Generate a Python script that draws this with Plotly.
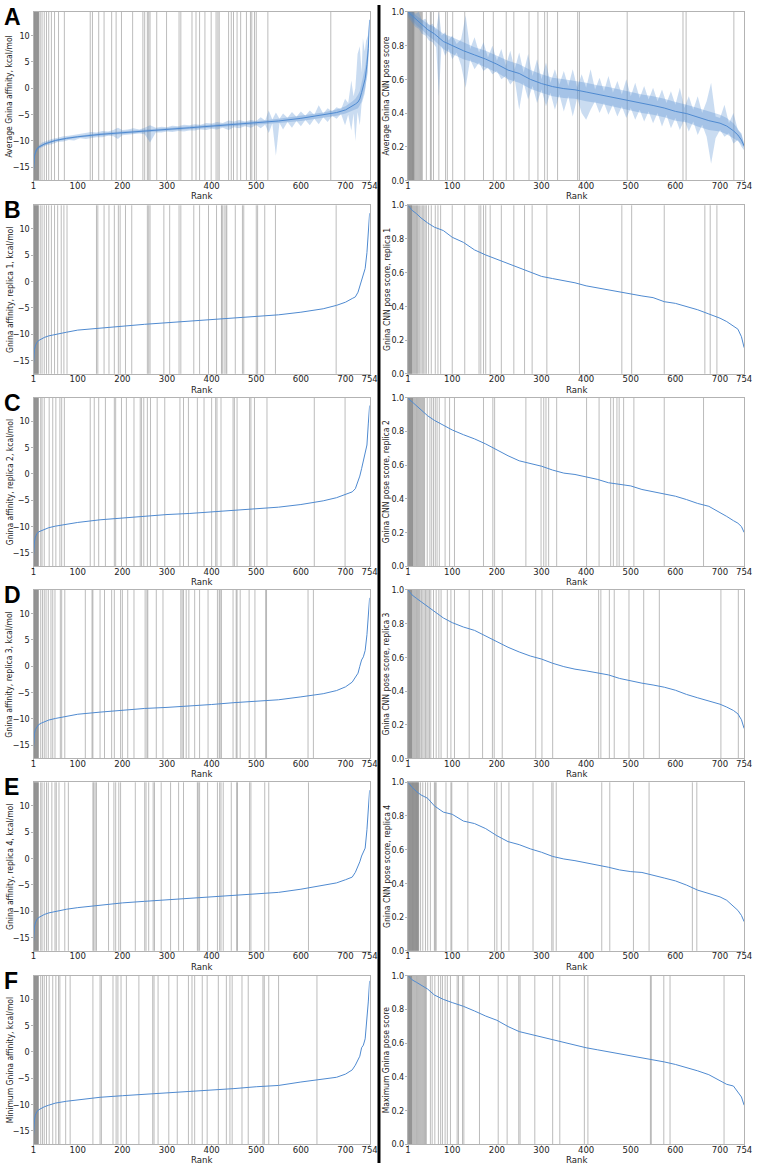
import plotly.graph_objects as go

# ------------------------------------------------------------------ data
x_tick_vals = [1, 100, 200, 300, 400, 500, 600, 700, 754]
aff_ticks = [-15, -10, -5, 0, 5, 10]
cnn_ticks = [0.0, 0.2, 0.4, 0.6, 0.8, 1.0]

# Panel A, left: average affinity with spread band (outer envelope)
bandA_aff_rank = [1, 5, 12, 20, 30, 42, 55, 68, 80, 92,
                  105, 118, 130, 142, 155, 168, 180, 190, 200, 212,
                  225, 238, 250, 262, 275, 288, 300, 312, 325, 338,
                  350, 362, 375, 388, 400, 412, 425, 438, 450, 462,
                  475, 488, 500, 510, 520, 528, 536, 544, 552, 560,
                  570, 580, 590, 600, 610, 620, 630, 640, 650, 660,
                  670, 680, 690, 699, 706, 713, 718, 722, 727, 732,
                  736, 739, 743, 746, 750, 754]
avgA_aff_upper = [-15.0, -11.8, -10.9, -10.3, -10.0, -9.6, -9.4, -9.1, -9.0, -8.8,
                  -8.7, -8.5, -8.3, -8.4, -8.1, -8.2, -7.9, -7.5, -7.9, -7.8,
                  -7.6, -7.8, -7.5, -7.0, -7.5, -7.3, -7.4, -7.1, -7.2, -6.9,
                  -7.0, -6.8, -6.9, -6.6, -6.7, -6.4, -6.6, -6.1, -6.3, -6.0,
                  -6.3, -6.0, -6.2, -5.5, -6.1, -4.2, -5.9, -4.6, -5.8, -4.8,
                  -5.6, -4.5, -5.4, -4.4, -5.2, -4.2, -5.0, -3.2, -4.8, -3.8,
                  -4.4, -3.6, -4.0, -2.0, -2.8, 1.5, -1.5, 0.0, 6.5, 8.0,
                  3.0, 9.5, 7.0, 9.0, 10.0, 13.3]
avgA_aff_lower = [-16.5, -12.6, -11.5, -11.2, -10.8, -10.6, -10.2, -10.1, -9.8, -9.9,
                  -9.5, -9.6, -9.4, -9.3, -9.3, -9.0, -9.1, -9.6, -8.9, -8.8,
                  -8.8, -8.6, -8.7, -10.3, -8.4, -8.4, -8.2, -8.3, -8.1, -8.2,
                  -8.0, -8.0, -7.8, -7.9, -7.7, -7.8, -7.5, -7.9, -7.4, -7.6,
                  -7.2, -7.5, -7.0, -7.6, -6.9, -8.5, -6.7, -12.8, -6.6, -7.8,
                  -6.4, -7.5, -6.2, -7.2, -6.0, -7.0, -5.8, -6.8, -5.5, -6.4,
                  -5.2, -5.8, -4.9, -7.0, -5.0, -8.0, -4.8, -10.0, -4.5, -7.0,
                  -3.0, -2.0, -1.0, 1.0, 3.0, 12.5]

# Panel A, left: mean line and inner (core) band
aff_rank = [1, 2, 3, 5, 8, 12, 18, 25, 35, 50, 75, 100, 150, 200, 250, 300, 350,
            400, 450, 500, 550, 600, 650, 680, 700, 715, 722, 728, 732, 736,
            740, 744, 748, 751, 754]
avgA_aff_mean = [-15.5, -13.8, -12.9, -12.2, -11.6, -11.2, -10.9, -10.6, -10.3, -9.9, -9.5, -9.2,
                 -8.75, -8.4, -8.1, -7.8, -7.5, -7.2, -6.9, -6.6, -6.2, -5.7, -5.1, -4.6, -4.1,
                 -3.4, -3.0, -2.6, -2.0, -0.8, 0.6, 1.8, 4.5, 7.5, 13.0]
avgA_aff_core_up = [-15.3, -13.6, -12.7, -12.0, -11.4, -11.0, -10.7, -10.4, -10.1, -9.7, -9.3, -9.0,
                    -8.5, -8.15, -7.85, -7.55, -7.25, -6.95, -6.6, -6.25, -5.8, -5.2, -4.6, -4.0, -3.4,
                    -2.5, -2.0, -1.2, -0.5, 1.0, 2.5, 4.0, 6.5, 9.0, 13.2]
avgA_aff_core_lo = [-15.8, -14.0, -13.1, -12.4, -11.8, -11.4, -11.1, -10.8, -10.5, -10.1, -9.7, -9.4,
                    -9.0, -8.65, -8.35, -8.05, -7.75, -7.45, -7.2, -6.95, -6.6, -6.2, -5.6, -5.2, -4.8,
                    -4.3, -4.0, -3.8, -3.2, -2.5, -1.2, 0.0, 2.5, 5.5, 12.8]

# Panel A, right: average CNN pose score, outer envelope
bandA_cnn_rank = [1, 6, 12, 18, 25, 32, 40, 48, 56, 64, 70, 76, 84, 92, 100,
                  110, 120, 130, 140, 150, 160, 170, 180, 190, 200,
                  210, 220, 230, 240, 250, 260, 270, 280, 290, 300,
                  310, 320, 330, 340, 350, 360, 370, 380, 390, 400,
                  410, 420, 430, 440, 450, 460, 470, 480, 490, 500,
                  510, 520, 530, 540, 550, 560, 570, 580, 590, 600,
                  610, 620, 630, 640, 650, 660, 670, 680, 690, 700,
                  710, 720, 730, 740, 748, 754]
avgA_cnn_upper = [1.0, 1.0, 1.0, 0.99, 1.0, 0.95, 0.96, 0.92, 0.93, 0.89, 1.0, 0.86, 0.88, 0.83, 0.86,
                  0.81, 0.84, 0.98, 0.78, 0.85, 0.76, 0.82, 0.73, 0.80, 0.71,
                  0.78, 0.68, 0.77, 0.66, 0.76, 0.64, 0.75, 0.62, 0.72, 0.60,
                  0.70, 0.58, 0.66, 0.57, 0.65, 0.56, 0.66, 0.55, 0.63, 0.55,
                  0.66, 0.54, 0.61, 0.53, 0.62, 0.52, 0.59, 0.51, 0.60, 0.50,
                  0.58, 0.49, 0.56, 0.48, 0.55, 0.47, 0.54, 0.46, 0.53, 0.45,
                  0.55, 0.43, 0.50, 0.42, 0.50, 0.40, 0.47, 0.58, 0.38, 0.37,
                  0.45, 0.34, 0.40, 0.30, 0.28, 0.22]
avgA_cnn_lower = [0.97, 0.95, 0.93, 0.91, 0.90, 0.87, 0.86, 0.83, 0.82, 0.79, 0.50, 0.80, 0.74, 0.78, 0.72,
                  0.76, 0.68, 0.55, 0.72, 0.66, 0.70, 0.65, 0.67, 0.63, 0.65,
                  0.60, 0.62, 0.57, 0.60, 0.42, 0.58, 0.48, 0.56, 0.46, 0.54,
                  0.44, 0.52, 0.42, 0.51, 0.41, 0.50, 0.38, 0.49, 0.40, 0.36,
                  0.42, 0.47, 0.40, 0.46, 0.39, 0.45, 0.38, 0.44, 0.37, 0.43,
                  0.36, 0.42, 0.35, 0.41, 0.34, 0.40, 0.32, 0.39, 0.31, 0.37,
                  0.30, 0.36, 0.29, 0.35, 0.27, 0.33, 0.26, 0.10, 0.25, 0.30,
                  0.26, 0.28, 0.22, 0.24, 0.20, 0.18]

# Panel A, right: mean line and core band
cnn_rank = [1, 5, 10, 20, 30, 45, 60, 80, 100, 125, 150, 175, 200, 225, 250, 275, 300,
            325, 350, 375, 400, 425, 450, 475, 500, 525, 550, 575, 600, 625, 650, 675,
            700, 715, 730, 740, 748, 754]
avgA_cnn_mean = [1.0, 0.99, 0.975, 0.95, 0.93, 0.895, 0.87, 0.825, 0.80, 0.77, 0.745, 0.72, 0.69,
                 0.655, 0.635, 0.60, 0.575, 0.557, 0.545, 0.538, 0.525, 0.512, 0.50, 0.485, 0.47,
                 0.457, 0.445, 0.43, 0.41, 0.397, 0.375, 0.355, 0.34, 0.323, 0.295, 0.27, 0.24, 0.205]
avgA_cnn_core_up = [1.0, 1.0, 0.995, 0.975, 0.96, 0.93, 0.91, 0.87, 0.85, 0.82, 0.79, 0.77, 0.74,
                    0.71, 0.69, 0.655, 0.63, 0.61, 0.60, 0.59, 0.58, 0.565, 0.555, 0.54, 0.525,
                    0.51, 0.5, 0.485, 0.465, 0.45, 0.43, 0.41, 0.39, 0.37, 0.34, 0.305, 0.27, 0.215]
avgA_cnn_core_lo = [0.985, 0.97, 0.95, 0.92, 0.90, 0.86, 0.83, 0.78, 0.75, 0.72, 0.70, 0.67, 0.64,
                    0.60, 0.58, 0.545, 0.52, 0.50, 0.49, 0.485, 0.47, 0.46, 0.445, 0.43, 0.415,
                    0.40, 0.39, 0.375, 0.355, 0.345, 0.32, 0.30, 0.29, 0.275, 0.25, 0.235, 0.215, 0.195]

# Panels B-F, left: affinity per replica / minimum
affB = [-15.5, -13.6, -12.9, -12.2, -11.6, -11.2, -10.9, -10.6, -10.3, -10.0, -9.6, -9.2, -8.8, -8.4,
        -8.1, -7.8, -7.5, -7.2, -6.95, -6.6, -6.3, -5.8, -5.15, -4.5, -3.9, -3.2, -2.9, -2.0,
        -0.8, 0.5, 1.2, 2.5, 5.5, 8.5, 13.0]
affC = [-15.5, -13.8, -12.9, -12.0, -11.4, -11.0, -10.8, -10.5, -10.2, -9.9, -9.5, -9.2, -8.7, -8.35,
        -8.05, -7.7, -7.5, -7.2, -6.9, -6.6, -6.3, -5.8, -5.1, -4.5, -3.9, -3.4, -2.8, -1.5,
        -0.4, 1.0, 2.5, 4.3, 5.5, 9.5, 13.0]
affD = [-15.5, -13.5, -12.8, -12.0, -11.5, -11.1, -10.8, -10.5, -10.2, -9.9, -9.5, -9.1, -8.7, -8.35,
        -8.0, -7.8, -7.55, -7.25, -6.9, -6.6, -6.35, -5.8, -5.2, -4.6, -3.9, -3.0, -2.2, -1.3,
        0.0, 1.2, 1.8, 3.0, 6.0, 9.0, 13.0]
affE = [-15.7, -13.8, -13.0, -12.2, -11.6, -11.2, -10.9, -10.6, -10.3, -10.0, -9.6, -9.3, -8.8, -8.4,
        -8.1, -7.8, -7.5, -7.3, -6.9, -6.6, -6.4, -5.8, -5.1, -4.6, -4.0, -3.5, -2.6, -1.5,
        -0.6, 0.5, 1.3, 2.0, 5.5, 9.0, 13.0]
affF = [-15.8, -13.8, -12.9, -12.0, -11.4, -11.0, -10.7, -10.4, -10.1, -9.7, -9.35, -9.1, -8.6, -8.3,
        -8.05, -7.75, -7.5, -7.25, -6.95, -6.6, -6.35, -5.7, -5.2, -4.8, -4.2, -3.4, -2.5, -1.5,
        -0.8, 0.8, 1.3, 2.5, 6.0, 9.5, 13.5]

# Panels B-F, right: CNN pose score per replica / maximum
cnnB = [1.0, 0.985, 0.97, 0.95, 0.925, 0.895, 0.87, 0.85, 0.81, 0.78, 0.735, 0.705, 0.68,
        0.655, 0.63, 0.605, 0.578, 0.565, 0.553, 0.54, 0.522, 0.51, 0.498, 0.482, 0.47,
        0.462, 0.452, 0.428, 0.418, 0.398, 0.38, 0.355, 0.33, 0.31, 0.285, 0.265, 0.22, 0.155]
cnnC = [1.0, 0.985, 0.975, 0.95, 0.925, 0.892, 0.865, 0.838, 0.808, 0.78, 0.755, 0.725, 0.69,
        0.655, 0.625, 0.608, 0.593, 0.57, 0.552, 0.544, 0.53, 0.515, 0.495, 0.484, 0.476,
        0.455, 0.442, 0.432, 0.415, 0.395, 0.372, 0.355, 0.32, 0.295, 0.27, 0.255, 0.235, 0.20]
cnnD = [1.0, 0.985, 0.97, 0.95, 0.93, 0.905, 0.87, 0.834, 0.806, 0.78, 0.76, 0.725, 0.69,
        0.66, 0.632, 0.608, 0.59, 0.565, 0.545, 0.53, 0.52, 0.508, 0.496, 0.475, 0.46,
        0.447, 0.436, 0.423, 0.405, 0.38, 0.36, 0.34, 0.322, 0.305, 0.285, 0.265, 0.23, 0.178]
cnnE = [1.0, 0.985, 0.97, 0.945, 0.925, 0.905, 0.86, 0.823, 0.81, 0.77, 0.755, 0.725, 0.683,
        0.648, 0.63, 0.605, 0.585, 0.56, 0.545, 0.535, 0.523, 0.51, 0.496, 0.48, 0.47,
        0.465, 0.45, 0.432, 0.415, 0.39, 0.36, 0.342, 0.32, 0.30, 0.265, 0.24, 0.21, 0.173]
cnnF = [1.0, 0.99, 0.975, 0.96, 0.945, 0.92, 0.885, 0.859, 0.84, 0.818, 0.79, 0.76, 0.735,
        0.698, 0.668, 0.652, 0.635, 0.617, 0.602, 0.588, 0.572, 0.56, 0.548, 0.536, 0.525,
        0.514, 0.5, 0.488, 0.473, 0.455, 0.435, 0.412, 0.375, 0.355, 0.345, 0.31, 0.28, 0.231]

# Ranks of the actives (vertical lines) per panel
actA_aff = [1, 2, 3, 4, 5, 6, 7, 8, 9, 10, 11, 12, 13, 16, 20, 25, 30, 35, 41, 48, 57, 70, 128, 133,
            147, 159, 176, 186, 198, 223, 246, 250, 256, 259, 262, 277, 299, 327, 331, 356, 365,
            373, 385, 399, 410, 414, 417, 438, 444, 449, 457, 465, 478, 487, 490, 496, 500, 526, 667]
actA_cnn = [1, 2, 3, 4, 5, 6, 7, 8, 9, 10, 11, 12, 13, 14, 15, 17, 19, 21, 23, 25, 27, 29, 31, 33,
            42, 51, 53, 58, 70, 85, 89, 101, 128, 170, 192, 221, 238, 272, 292, 307, 313, 336,
            381, 385, 492, 617, 624, 731]
actB_aff = [1, 2, 3, 4, 5, 6, 7, 8, 9, 10, 11, 12, 16, 20, 25, 30, 35, 41, 48, 55, 63, 69, 76, 142,
            145, 159, 170, 182, 191, 195, 207, 221, 256, 259, 262, 293, 306, 327, 331, 360, 373,
            393, 411, 422, 424, 428, 432, 434, 453, 469, 472, 500, 503, 519, 543, 679]
actB_cnn = [1, 2, 3, 4, 5, 6, 7, 8, 9, 10, 12, 14, 16, 18, 20, 22, 24, 27, 30, 33, 36, 39, 42, 47,
            53, 62, 68, 74, 100, 128, 160, 164, 170, 175, 185, 210, 238, 262, 279, 312, 385, 480,
            502, 575, 666, 678, 693]
actC_aff = [1, 2, 3, 4, 5, 6, 7, 8, 9, 10, 11, 12, 17, 20, 25, 36, 44, 51, 60, 64, 70, 128, 137,
            147, 162, 182, 185, 198, 209, 226, 240, 243, 248, 256, 263, 278, 295, 329, 337, 348,
            368, 383, 400, 409, 412, 421, 448, 451, 457, 485, 488, 496, 524, 630, 699]
actC_cnn = [1, 2, 3, 4, 5, 6, 7, 8, 9, 10, 11, 12, 14, 16, 18, 20, 22, 24, 26, 28, 30, 32, 34, 36,
            38, 44, 50, 54, 58, 62, 66, 71, 84, 94, 105, 170, 191, 195, 265, 299, 305, 310, 316,
            334, 401, 429, 455, 461, 469, 474, 484, 507, 575, 663]
actD_aff = [1, 2, 3, 4, 5, 6, 7, 8, 9, 10, 11, 12, 17, 21, 25, 29, 34, 40, 44, 49, 61, 64, 71, 117,
            132, 134, 150, 160, 176, 182, 196, 200, 212, 226, 251, 255, 257, 276, 291, 331, 334,
            337, 343, 349, 362, 373, 392, 413, 417, 419, 422, 448, 455, 457, 464, 484, 497, 521,
            523, 616, 628]
actD_cnn = [1, 2, 3, 4, 5, 6, 7, 8, 9, 10, 12, 14, 16, 18, 20, 22, 24, 26, 28, 31, 34, 37, 40, 43,
            46, 49, 52, 58, 64, 70, 75, 89, 97, 105, 138, 168, 190, 194, 212, 287, 301, 325, 428,
            433, 452, 463, 496, 529, 564, 702, 741]
actE_aff = [1, 2, 3, 4, 5, 6, 7, 8, 9, 10, 11, 12, 17, 20, 25, 30, 34, 42, 49, 52, 58, 71, 79, 134,
            136, 139, 142, 169, 181, 185, 192, 196, 229, 250, 253, 259, 269, 272, 287, 308, 326,
            337, 368, 370, 373, 391, 413, 418, 421, 426, 444, 456, 458, 485, 488, 519, 528, 617]
actE_cnn = [1, 2, 3, 4, 5, 6, 7, 8, 9, 10, 11, 12, 13, 14, 15, 16, 17, 18, 19, 20, 21, 22, 23, 24,
            25, 29, 34, 40, 45, 51, 60, 62, 64, 86, 97, 99, 135, 195, 200, 210, 227, 281, 323,
            326, 333, 435, 453, 506, 541, 638, 648]
actF_aff = [1, 2, 3, 4, 5, 6, 7, 8, 9, 10, 11, 12, 17, 21, 25, 30, 36, 44, 51, 57, 60, 73, 83, 134,
            150, 153, 179, 186, 190, 197, 209, 237, 268, 271, 280, 304, 323, 348, 356, 362, 379,
            390, 415, 433, 441, 446, 468, 482, 515, 518, 528, 550, 636]
actF_cnn = [1, 2, 3, 4, 5, 6, 7, 8, 9, 10, 12, 14, 16, 18, 20, 22, 24, 26, 28, 30, 32, 34, 36, 38,
            40, 42, 51, 55, 61, 69, 74, 78, 84, 89, 96, 111, 114, 123, 126, 161, 203, 223, 249,
            252, 285, 325, 341, 396, 404, 544, 546, 574, 588, 709]

panel_letters = ["A", "B", "C", "D", "E", "F"]
left_titles = ["Average Gnina affinity, kcal/mol",
               "Gnina affinity, replica 1, kcal/mol",
               "Gnina affinity, replica 2, kcal/mol",
               "Gnina affinity, replica 3, kcal/mol",
               "Gnina affinity, replica 4, kcal/mol",
               "Minimum Gnina affinity, kcal/mol"]
right_titles = ["Average Gnina CNN pose score",
                "Gnina CNN pose score, replica 1",
                "Gnina CNN pose score, replica 2",
                "Gnina CNN pose score, replica 3",
                "Gnina CNN pose score, replica 4",
                "Maximum Gnina pose score"]

# ------------------------------------------------------------------ layout
W, H = 761, 1168
COL_X = [(31, 372), (411, 752)]
ROW_TOP = [7, 202, 396, 590, 784, 979]
PH = 170
FONT = "DejaVu Sans Condensed, Liberation Sans, Arial, sans-serif"
CURVE = "#4f8ad0"
BAND_OUT = "rgba(79,138,208,0.30)"
BAND_IN = "rgba(79,138,208,0.30)"
VLINE = "rgba(95,95,95,0.42)"
FRAME = "#b3b3b3"
TXT = "#222222"

left_series = [None, affB, affC, affD, affE, affF]
right_series = [None, cnnB, cnnC, cnnD, cnnE, cnnF]
left_acts = [actA_aff, actB_aff, actC_aff, actD_aff, actE_aff, actF_aff]
right_acts = [actA_cnn, actB_cnn, actC_cnn, actD_cnn, actE_cnn, actF_cnn]

fig = go.Figure()
layout = dict(width=W, height=H, margin=dict(l=0, r=0, t=0, b=0),
              paper_bgcolor="white", plot_bgcolor="white", showlegend=False,
              font=dict(family=FONT, color=TXT))
shapes = []
annotations = []


def ax_names(n):
    s = "" if n == 1 else str(n)
    return "x" + s, "y" + s, "xaxis" + s, "yaxis" + s


def add_band(xs, up, lo, color, xr, yr):
    fig.add_trace(go.Scatter(x=xs, y=up, mode="lines", line=dict(width=0, color=color),
                             xaxis=xr, yaxis=yr, hoverinfo="skip"))
    fig.add_trace(go.Scatter(x=xs, y=lo, mode="lines", line=dict(width=0, color=color),
                             fill="tonexty", fillcolor=color,
                             xaxis=xr, yaxis=yr, hoverinfo="skip"))


for row in range(6):
    top = ROW_TOP[row]
    ydom = [1 - (top + PH) / H, 1 - top / H]
    for col in range(2):
        n = row * 2 + col + 1
        xr, yr, xkey, ykey = ax_names(n)
        x0, x1 = COL_X[col]
        layout[xkey] = dict(domain=[x0 / W, x1 / W], anchor=yr, range=[1, 754],
                            tickmode="array", tickvals=x_tick_vals,
                            ticktext=[str(v) for v in x_tick_vals],
                            showline=True, mirror=True, linecolor=FRAME, linewidth=1,
                            ticks="outside", ticklen=2, tickcolor=FRAME,
                            ticklabelstandoff=-6,
                            showgrid=False, zeroline=False,
                            tickfont=dict(size=9.5, color=TXT, family=FONT))
        if col == 0:
            yrange, yt = [-17.5, 14.5], aff_ticks
            ytt = [str(v).replace("-", "\u2212") for v in aff_ticks]
        else:
            yrange, yt = [0, 1], cnn_ticks
            ytt = ["%.1f" % v for v in cnn_ticks]
        layout[ykey] = dict(domain=ydom, anchor=xr, range=yrange,
                            tickmode="array", tickvals=yt, ticktext=ytt,
                            showline=True, mirror=True, linecolor=FRAME, linewidth=1,
                            ticks="outside", ticklen=2, tickcolor=FRAME,
                            ticklabelstandoff=-1,
                            showgrid=False, zeroline=False,
                            tickfont=dict(size=9, color=TXT, family=FONT))

        acts = left_acts[row] if col == 0 else right_acts[row]
        for r in acts:
            shapes.append(dict(type="line", xref=xr, yref=yr + " domain",
                               x0=r, x1=r, y0=0, y1=1, layer="below",
                               line=dict(color=VLINE, width=1)))

        if row == 0:
            if col == 0:
                add_band(bandA_aff_rank, avgA_aff_upper, avgA_aff_lower, BAND_OUT, xr, yr)
                add_band(aff_rank, avgA_aff_core_up, avgA_aff_core_lo, BAND_IN, xr, yr)
                mx, my = aff_rank, avgA_aff_mean
            else:
                add_band(bandA_cnn_rank, avgA_cnn_upper, avgA_cnn_lower, BAND_OUT, xr, yr)
                add_band(cnn_rank, avgA_cnn_core_up, avgA_cnn_core_lo, BAND_IN, xr, yr)
                mx, my = cnn_rank, avgA_cnn_mean
            fig.add_trace(go.Scatter(x=mx, y=my, mode="lines", line=dict(width=1, color=CURVE),
                                     xaxis=xr, yaxis=yr))
        else:
            if col == 0:
                xs, ys = aff_rank, left_series[row]
            else:
                xs, ys = cnn_rank, right_series[row]
            fig.add_trace(go.Scatter(x=xs, y=ys, mode="lines", line=dict(width=1, color=CURVE),
                                     xaxis=xr, yaxis=yr))

        # x-axis title
        annotations.append(dict(text="Rank", xref="paper", yref="paper",
                                x=(x0 + x1) / 2 / W, y=1 - (top + PH + 15.5) / H,
                                xanchor="center", yanchor="middle", showarrow=False,
                                font=dict(size=9.5, family=FONT, color=TXT)))
        # y-axis title
        tx = 6.5 if col == 0 else 389
        annotations.append(dict(text=(left_titles if col == 0 else right_titles)[row],
                                xref="paper", yref="paper", x=tx / W,
                                y=1 - (top + PH / 2) / H, textangle=-90,
                                xanchor="center", yanchor="middle", showarrow=False,
                                font=dict(size=8.5, family=FONT, color=TXT)))
    # panel letter
    annotations.append(dict(text="<b>%s</b>" % panel_letters[row], xref="paper", yref="paper",
                            x=0, y=1 - (top - 10) / H, xanchor="left", yanchor="top",
                            xshift=-1, showarrow=False,
                            font=dict(size=23, family="Liberation Sans, Arial, sans-serif",
                                      color="black")))

# black divider between columns
shapes.append(dict(type="line", xref="paper", yref="paper", x0=381.5 / W, x1=381.5 / W,
                   y0=0, y1=1, line=dict(color="black", width=3)))

layout["shapes"] = shapes
layout["annotations"] = annotations
fig.update_layout(**layout)
fig.write_html("out.html")
